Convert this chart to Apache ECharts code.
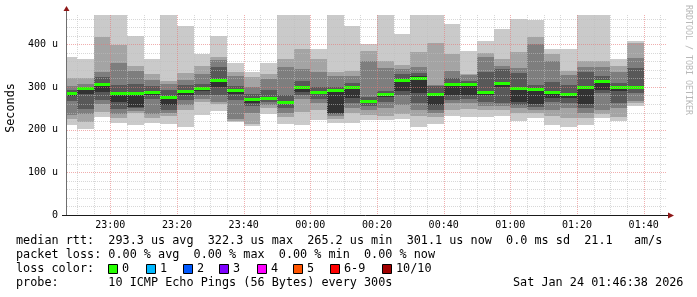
<!DOCTYPE html>
<html><head><meta charset="utf-8">
<script src="https://cdn.jsdelivr.net/npm/echarts@6/dist/echarts.min.js"></script>
<style>html,body{margin:0;padding:0;background:#fff}#c{width:697px;height:297px}</style>
</head><body><div id="c"></div>
<script>
// ---- data (each bar = 5-minute step ending at the given time; 10 sorted pings, microseconds)
const barEnds = ['22:50','22:55','23:00','23:05','23:10','23:15','23:20','23:25','23:30','23:35','23:40','23:45','23:50','23:55',
  '00:00','00:05','00:10','00:15','00:20','00:25','00:30','00:35','00:40','00:45','00:50','00:55',
  '01:00','01:05','01:10','01:15','01:20','01:25','01:30','01:35','01:40'];
const ping1  = [210,201,230,215,211,215,213,205,234,244,217,208,236,213,211,222,215,216,222,222,226,206,213,232,230,230,232,220,228,211,206,211,228,221,256];
const ping2  = [225,218,241,227,238,228,232,246,265,259,220,212,250,230,242,245,226,238,235,232,237,232,230,245,248,245,245,240,240,232,228,228,237,230,262];
const ping3  = [235,237,261,237,243,236,240,257,272,265,226,240,258,240,272,262,232,250,245,250,258,246,240,262,262,255,255,250,247,245,250,240,245,250,268];
const ping4  = [268,249,269,249,250,272,245,269,280,281,269,255,265,250,281,272,236,262,255,265,280,262,245,270,272,265,262,258,252,265,262,250,285,262,285];
const ping5  = [279,284,288,265,253,282,258,280,290,300,284,262,269,259,288,284,240,275,262,276,290,285,258,281,282,281,300,265,260,274,273,260,292,290,298];
const ping6  = [285,298,310,288,288,290,278,293,299,318,294,274,275,266,302,290,294,302,270,285,319,325,286,309,310,290,311,299,296,290,285,302,315,301,303];
const ping7  = [293,301,323,304,308,302,292,305,308,347,303,283,292,280,313,300,299,310,277,290,330,333,302,322,315,335,342,332,305,312,305,335,325,310,345];
const ping8  = [303,308,335,355,337,316,306,316,331,362,326,300,319,347,341,334,326,325,360,345,343,347,305,337,327,370,350,345,400,360,328,347,347,335,368];
const ping9  = [320,320,417,399,349,331,313,333,348,370,335,323,331,366,388,366,335,337,384,360,352,382,403,377,331,380,365,382,417,378,337,360,360,350,402];
const ping10 = [370,365,480,480,420,365,480,443,378,420,357,335,356,480,480,388,480,443,400,480,424,480,480,447,384,407,435,460,457,390,390,480,480,365,407];
const median = [285,298,308,286,286,288,276,291,297,316,292,271,273,265,300,288,292,299,267,283,317,322,284,307,308,288,309,297,294,288,283,300,314,300,301];
const xLabelTimes = ['23:00','23:20','23:40','00:00','00:20','00:40','01:00','01:20','01:40'];
const yLabelValues = [0,100,200,300,400];
const lossLegend = ['0','1','2','3','4','5','6-9','10/10'];
const lossColors = ['#26ff00','#00b8ff','#0059ff','#7e00ff','#ff00ff','#ff5500','#ff0000','#a10000'];
const statsLine1 = 'median rtt:  293.3 us avg  322.3 us max  265.2 us min  301.1 us now  0.0 ms sd  21.1   am/s';
const statsLine2 = 'packet loss: 0.00 % avg  0.00 % max  0.00 % min  0.00 % now';
const probeLine = 'probe:       10 ICMP Echo Pings (56 Bytes) every 300s';
const dateText = 'Sat Jan 24 01:46:38 2026';

// ---- helpers
const toMin = s => { let [h, m] = s.split(':').map(Number); if (h < 12) h += 24; return (h - 22) * 60 + m; };
const fmtMin = v => { let t = Math.round(v); let h = (Math.floor(t / 60) + 22) % 24; let m = t % 60; return String(h).padStart(2,'0') + ':' + String(m).padStart(2,'0'); };
const xMin = 47, xMax = 227, yMax = 468.5;
const smokeColors = ['#cacaca','#a4a4a4','#7e7e7e','#585858','#323232'];
const MONO = '"DejaVu Sans Mono", "Liberation Mono", monospace';
const labelMinutes = xLabelTimes.map(toMin);

const smokeData = barEnds.map((t, i) => [toMin(t) - 5, toMin(t), ping1[i], ping2[i], ping3[i], ping4[i], ping5[i], ping6[i], ping7[i], ping8[i], ping9[i], ping10[i], median[i]]);

const minorX = [], majorX = [], minorY = [], majorY = [];
for (let t = 50; t < xMax; t += 5) (t % 20 === 0 ? majorX : minorX).push(t);
for (let v = 20; v < yMax; v += 20) (v % 100 === 0 ? majorY : minorY).push(v);

const chart = echarts.init(document.getElementById('c'), null, {renderer: 'canvas', devicePixelRatio: 1});

const graphics = [];
graphics.push({type:'text', x: 11, y: 108, rotation: Math.PI/2, style:{text:'Seconds', font: '11.8px ' + MONO, fill:'#000', align:'center', verticalAlign:'middle'}});
graphics.push({type:'text', x: 688, y: 5, rotation: -Math.PI/2, style:{text:'RRDTOOL / TOBI OETIKER', font: '8.3px ' + MONO, fill:'#b8b8b8', align:'left', verticalAlign:'middle'}});
graphics.push({type:'text', x: 16, y: 241, style:{text: statsLine1, font: '11.8px ' + MONO, fill:'#000', align:'left', verticalAlign:'middle'}});
graphics.push({type:'text', x: 16, y: 255, style:{text: statsLine2, font: '11.8px ' + MONO, fill:'#000', align:'left', verticalAlign:'middle'}});
graphics.push({type:'text', x: 16, y: 269, style:{text: 'loss color:', font: '11.8px ' + MONO, fill:'#000', align:'left', verticalAlign:'middle'}});
graphics.push({type:'text', x: 16, y: 283, style:{text: probeLine, font: '11.8px ' + MONO, fill:'#000', align:'left', verticalAlign:'middle'}});
graphics.push({type:'text', x: 513, y: 283, style:{text: dateText, font: '11.8px ' + MONO, fill:'#000', align:'left', verticalAlign:'middle'}});
const boxX = [108, 146, 183, 219, 257, 293, 330, 382];
lossLegend.forEach((lab, i) => {
  graphics.push({type:'rect', shape:{x: boxX[i] + 0.5, y: 264.5, width: 9, height: 9}, style:{fill: lossColors[i], stroke:'#000', lineWidth:1}});
  graphics.push({type:'text', x: boxX[i] + 14, y: 269, style:{text: lab, font: '11.8px ' + MONO, fill:'#000', align:'left', verticalAlign:'middle'}});
});

chart.setOption({
  animation: false,
  backgroundColor: '#ffffff',
  grid: {left: 67, right: 30, top: 15, bottom: 82, containLabel: false},
  xAxis: {
    type: 'value', min: xMin, max: xMax, splitNumber: 9,
    axisLine: {show: false}, axisTick: {show: false}, splitLine: {show: false},
    axisLabel: {
      customValues: labelMinutes,
      formatter: v => (labelMinutes.some(m => Math.abs(m - v) < 1e-6) ? fmtMin(v) : ''),
      hideOverlap: false,
      fontFamily: MONO, fontSize: 10, color: '#000', margin: 5
    }
  },
  yAxis: {
    type: 'value', min: 0, max: yMax, interval: 100,
    axisLine: {show: false}, axisTick: {show: false}, splitLine: {show: false},
    axisLabel: {
      formatter: v => (v === 0 ? '0' : (v % 100 === 0 ? v + ' u' : '')),
      showMaxLabel: false,
      fontFamily: MONO, fontSize: 10, color: '#000', margin: 9
    }
  },
  graphic: graphics,
  series: [
    {
      type: 'custom', name: 'smoke', z: 2,
      data: smokeData,
      encode: {x: [0, 1], y: [2, 11]},
      renderItem(params, api) {
        const cs = params.coordSys;
        const x0 = Math.round(Math.max(api.coord([api.value(0), 0])[0], cs.x));
        const x1 = Math.round(api.coord([api.value(1), 0])[0]);
        const children = [];
        for (let j = 0; j < 5; j++) {
          const lo = api.value(2 + j), hi = api.value(11 - j);
          const yLo = Math.round(api.coord([0, lo])[1]);
          const yHi = Math.round(Math.max(api.coord([0, hi])[1], cs.y));
          children.push({type: 'rect', shape: {x: x0, y: yHi, width: x1 - x0, height: yLo - yHi}, style: {fill: smokeColors[j]}});
        }
        const ym = Math.round(api.coord([0, api.value(12)])[1]);
        children.push({type: 'rect', shape: {x: x0, y: ym - 1, width: x1 - x0, height: 3}, style: {fill: lossColors[0]}});
        return {type: 'group', children};
      }
    },
    {
      type: 'custom', name: 'grid', z: 5, silent: true,
      data: [[xMin, 0]],
      renderItem(params, api) {
        const cs = params.coordSys;
        const ch = [];
        const top = cs.y, bot = cs.y + cs.height, left = cs.x, right = cs.x + cs.width;
        const vline = (t, col) => { const x = Math.round(api.coord([t, 0])[0]) + 0.5; ch.push({type:'line', shape:{x1:x, y1:top, x2:x, y2:bot}, style:{stroke:col, lineWidth:1, lineDash:[1,1]}}); };
        const hline = (v, col) => { const y = Math.round(api.coord([xMin, v])[1]) + 0.5; ch.push({type:'line', shape:{x1:left, y1:y, x2:right, y2:y}, style:{stroke:col, lineWidth:1, lineDash:[1,1]}}); };
        minorX.forEach(t => vline(t, 'rgba(190,190,190,0.6)'));
        minorY.forEach(v => hline(v, 'rgba(190,190,190,0.6)'));
        majorX.forEach(t => vline(t, 'rgba(230,120,120,0.6)'));
        majorY.forEach(v => hline(v, 'rgba(230,120,120,0.6)'));
        // axes
        const y0 = Math.round(api.coord([xMin, 0])[1]) + 0.5;
        const xa = Math.round(api.coord([xMin, 0])[0]) - 0.5;
        ch.push({type:'line', shape:{x1: xa, y1: y0, x2: xa, y2: top - 4}, style:{stroke:'#6e6e6e', lineWidth:1}});
        ch.push({type:'line', shape:{x1: left - 5, y1: y0, x2: right + 2, y2: y0}, style:{stroke:'#1a1a1a', lineWidth:1}});
        ch.push({type:'polygon', shape:{points:[[xa - 3, top - 4], [xa + 3, top - 4], [xa, top - 9]]}, style:{fill:'#8e1717'}});
        ch.push({type:'polygon', shape:{points:[[right + 1, y0 - 3], [right + 1, y0 + 3], [right + 7, y0]]}, style:{fill:'#8e1717'}});
        return {type:'group', children: ch};
      }
    }
  ]
});
</script>
</body></html>
